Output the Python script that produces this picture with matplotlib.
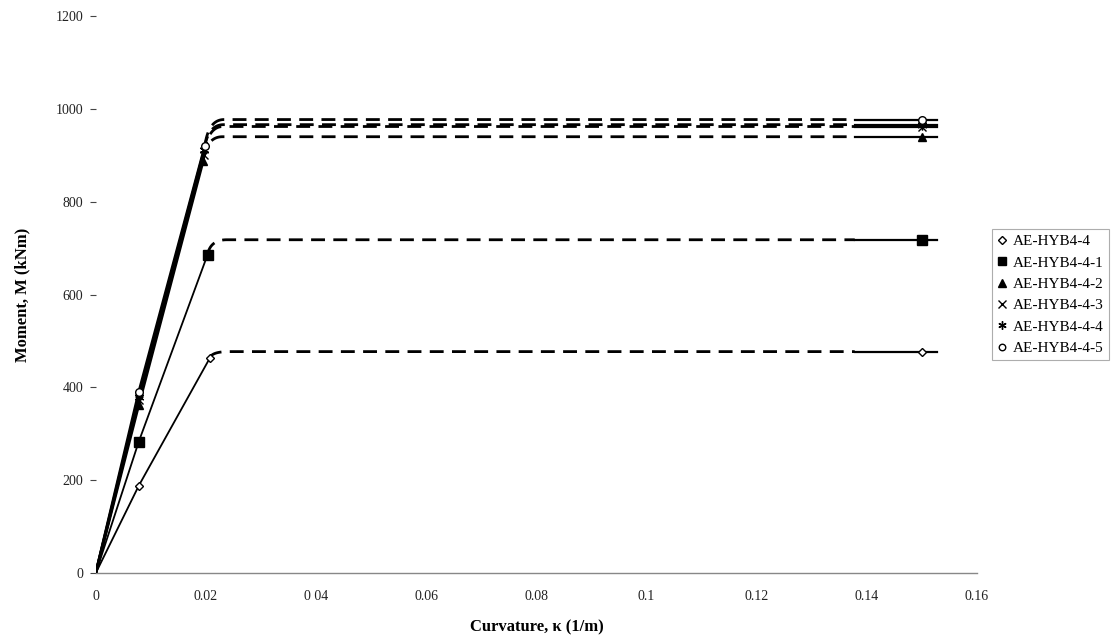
import numpy as np
import matplotlib
matplotlib.use("Agg")
import matplotlib.pyplot as plt
from matplotlib.lines import Line2D

# ---- data ----
series_names = ["AE-HYB4-4", "AE-HYB4-4-1", "AE-HYB4-4-2",
                "AE-HYB4-4-3", "AE-HYB4-4-4", "AE-HYB4-4-5"]
kappa_1 = [0.0078, 0.0078, 0.0078, 0.0078, 0.0078, 0.0078]
moment_1 = [188, 283, 362, 373, 380, 390]
kappa_yield = [0.0207, 0.0203, 0.0195, 0.0196, 0.0197, 0.0198]
moment_yield = [463, 686, 888, 900, 912, 920]
kappa_ult = [0.15, 0.15, 0.15, 0.15, 0.15, 0.15]
moment_ult = [477, 718, 940, 962, 966, 977]
x_ticks = [0, 0.02, 0.04, 0.06, 0.08, 0.1, 0.12, 0.14, 0.16]
x_tick_labels = ["0", "0.02", "0 04", "0.06", "0.08", "0.1", "0.12", "0.14", "0.16"]
y_ticks = [0, 200, 400, 600, 800, 1000, 1200]

# ---- style ----
markers = ["D", "s", "^", "x", (6, 2, 0), "o"]
mfc = ["white", "black", "black", "black", "black", "white"]
msize = [4.5, 6.5, 6, 6, 7, 5.5]
lw_rise = [1.3, 1.3, 2.0, 2.0, 2.0, 2.0]

plt.rcParams["font.family"] = ["Liberation Serif", "DejaVu Serif"]
fig = plt.figure(figsize=(11.14, 6.42), dpi=100)
ax = fig.add_axes([0.086, 0.1075, 0.791, 0.8675])

for i, name in enumerate(series_names):
    k1, m1 = kappa_1[i], moment_1[i]
    ky, my = kappa_yield[i], moment_yield[i]
    ku, mu = kappa_ult[i], moment_ult[i]
    # solid rising part
    ax.plot([0, k1, ky], [0, m1, my], color="black", lw=lw_rise[i],
            solid_capstyle="round", zorder=3)
    # dashed smooth transition + plateau
    slope = (my - m1) / (ky - k1)
    kc = ky + (mu - my) / slope * 0.5
    t = np.linspace(0, 1, 30)
    p0 = np.array([ky, my]); p1 = np.array([kc, mu]); p2 = np.array([ky + 0.0035, mu])
    curve = ((1 - t) ** 2)[:, None] * p0 + (2 * (1 - t) * t)[:, None] * p1 + (t ** 2)[:, None] * p2
    xs = np.concatenate([curve[:, 0], [0.1378]])
    ys = np.concatenate([curve[:, 1], [mu]])
    ax.plot(xs, ys, color="black", lw=2.0, ls=(0, (5, 3)), zorder=3)
    # solid end part
    ax.plot([0.1378, 0.1528], [mu, mu], color="black", lw=1.6, zorder=3)
    # markers
    ax.plot([k1, ky, ku], [m1, my, mu], ls="none", marker=markers[i],
            mfc=mfc[i], mec="black", ms=msize[i], mew=1.0, zorder=4)

ax.set_xlim(0, 0.16)
ax.set_ylim(0, 1200)
ax.set_xticks(x_ticks)
ax.set_xticklabels(x_tick_labels)
ax.set_yticks(y_ticks)
ax.tick_params(axis="x", length=0, pad=12, labelsize=10, colors="#222222")
ax.tick_params(axis="y", length=4, width=0.8, direction="out", pad=5,
               labelsize=10, colors="#444444", labelcolor="#222222")
for s in ["top", "right", "left"]:
    ax.spines[s].set_visible(False)
ax.spines["bottom"].set_color("#888888")
ax.spines["bottom"].set_linewidth(1.0)

ax.set_xlabel("Curvature, \u03ba (1/m)", fontsize=12, fontweight="bold", labelpad=12)
ax.set_ylabel("Moment, M (kNm)", fontsize=12, fontweight="bold", labelpad=18)

handles = [Line2D([], [], ls="none", marker=markers[i], mfc=mfc[i], mec="black",
                  ms=msize[i] * 0.85, mew=1.0) for i in range(len(series_names))]
leg = fig.legend(handles, series_names, loc="upper right",
                 bbox_to_anchor=(0.9955, 0.643), frameon=True, fancybox=False,
                 fontsize=11, handlelength=0.6, handletextpad=0.4,
                 labelspacing=0.5, borderpad=0.35, borderaxespad=0)
leg.get_frame().set_edgecolor("#999999")
leg.get_frame().set_linewidth(0.8)

fig.savefig("out.png", dpi=100)
